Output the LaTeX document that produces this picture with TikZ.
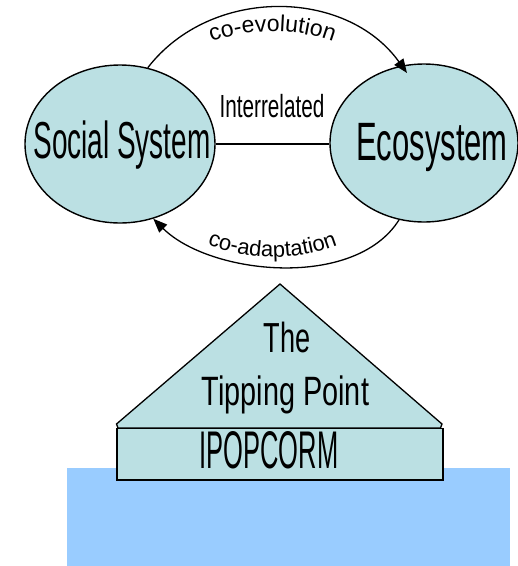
\documentclass[tikz,border=0pt]{standalone}
\usepackage{fontspec}
\setmainfont{Liberation Sans}
\usetikzlibrary{shapes.geometric,arrows.meta,decorations.text}
\definecolor{tealfill}{HTML}{BBE0E3}
\definecolor{water}{HTML}{99CCFF}
\newcommand{\sqz}[3]{\scalebox{#1}[1]{\fontsize{#2}{#2}\selectfont #3}}
\begin{document}
\begin{tikzpicture}[x=1pt,y=-1pt,
  bubble/.style={ellipse, draw=black, line width=1.4pt, fill=tealfill, inner sep=0pt},
  lbl/.style={anchor=base, inner sep=0pt},
  arr/.style={line width=1.3pt, -{Triangle[length=14pt,width=11pt]}},
  linkline/.style={line width=1.3pt},
  roofbox/.style={draw=black, line width=1.3pt, fill=tealfill, line join=miter},
  curvetext/.style={decorate, decoration={text along path, text align=center, text={#1}}}]
\useasboundingbox (0,0) rectangle (518,566);

% ellipses
\node[bubble, minimum width=190pt, minimum height=158pt] (soc) at (120,144) {};
\node[bubble, minimum width=188pt, minimum height=158pt] (eco) at (424,143) {};
\node[lbl] (soct) at (122,158.5) {\sqz{0.538}{52}{Social System}};
\node[lbl] (ecot) at (432,160) {\sqz{0.574}{54}{Ecosystem}};

% interrelated link
\draw[linkline] (soc.east) -- (soc.east -| eco.west);
\node[lbl] (inter) at (272,117) {\sqz{0.648}{32}{Interrelated}};

% co-evolution arrow
\coordinate (tipA) at (407,73);
\draw[arr] (soc.70) .. controls (211,-14) and (346,-12) .. (tipA);
\path[curvetext={|\fontsize{23}{23}\selectfont|co-evolution}]
  (188,53) .. controls (240,24) and (305,24) .. (357,53);

% co-adaptation arrow
\draw[arr] (eco.252) .. controls (355,290) and (210,275) .. (soc.-66);
\path[curvetext={|\fontsize{22}{22}\selectfont|co-adaptation}]
  (188,236) .. controls (240,264) and (305,264) .. (357,236);

% water
\fill[water] (67,468) rectangle (510,566);

% tipping point roof
\path[roofbox] (118,428) -- (116.5,424) -- (280,284) -- (442,424) -- (440.5,428) -- cycle;
\node[lbl] (the) at (287,352) {\sqz{0.646}{42}{The}};
\node[lbl] (tip) at (285.5,405) {\sqz{0.703}{41}{Tipping Point}};

% base
\draw[roofbox] (117,428.5) rectangle (443,480);
\node[lbl] (ipop) at (269,468) {\sqz{0.481}{53}{IPOPCORM}};
\end{tikzpicture}
\end{document}
